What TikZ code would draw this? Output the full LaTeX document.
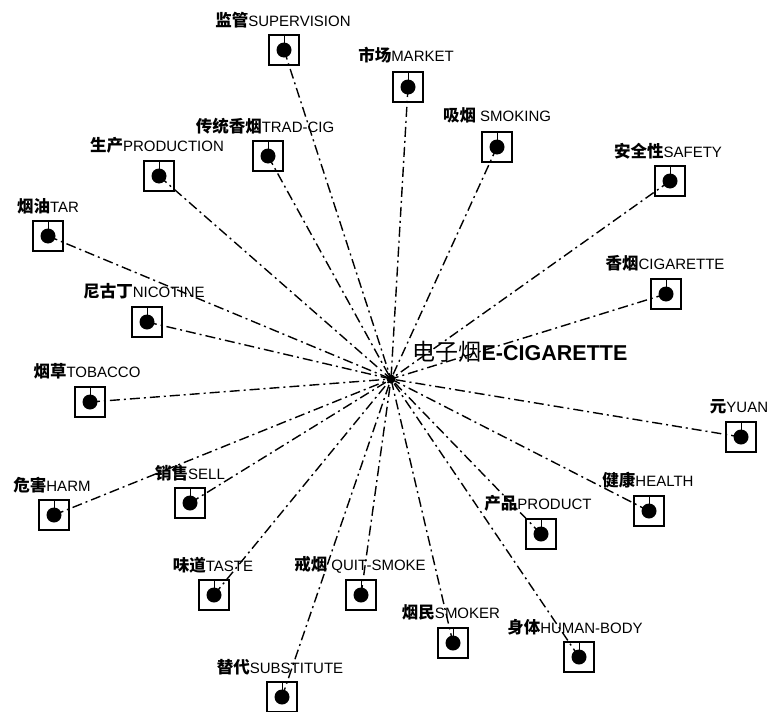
\documentclass[tikz,border=0pt]{standalone}
\usepackage{fontspec}
\setmainfont{Liberation Sans}
\newfontfamily\cjk{Noto Sans CJK SC}
\newcommand{\zh}[1]{{\cjk\bfseries\fontsize{16.5}{18}\selectfont #1}}
\begin{document}
\begin{tikzpicture}[x=1pt,y=-1pt]
	\tikzset{term/.style={draw, line width=1.1pt, minimum size=30pt, inner sep=0pt},
		termdot/.style={circle, fill=black, minimum size=15pt, inner sep=0pt},
		lbl/.style={inner sep=0pt, font=\fontsize{15}{18}\selectfont},
		link/.style={line width=1.4pt, dash pattern=on 10pt off 4pt on 2pt off 4pt},
		hubdot/.style={circle, fill=black, minimum size=9pt, inner sep=0pt}}
	\useasboundingbox (0,0) rectangle (769,712);
	\node[hubdot] (hub) at (391,379) {};
	\node[term] (sup) at (284,50) {};
	\node[termdot] (supd) at (sup) {};
	\draw[line width=1pt] (sup.north) -- (supd.center);
	\draw[link] (supd.center) -- (hub.center);
	\node[term] (mkt) at (408,87) {};
	\node[termdot] (mktd) at (mkt) {};
	\draw[line width=1pt] (mkt.north) -- (mktd.center);
	\draw[link] (mktd.center) -- (hub.center);
	\node[term] (smk) at (497,147) {};
	\node[termdot] (smkd) at (smk) {};
	\draw[line width=1pt] (smk.north) -- (smkd.center);
	\draw[link] (smkd.center) -- (hub.center);
	\node[term] (saf) at (670,181) {};
	\node[termdot] (safd) at (saf) {};
	\draw[line width=1pt] (saf.north) -- (safd.center);
	\draw[link] (safd.center) -- (hub.center);
	\node[term] (cig) at (666,294) {};
	\node[termdot] (cigd) at (cig) {};
	\draw[line width=1pt] (cig.north) -- (cigd.center);
	\draw[link] (cigd.center) -- (hub.center);
	\node[term] (yuan) at (741,437) {};
	\node[termdot] (yuand) at (yuan) {};
	\draw[line width=1pt] (yuan.north) -- (yuand.center);
	\draw[link] (yuand.center) -- (hub.center);
	\node[term] (hlth) at (649,511) {};
	\node[termdot] (hlthd) at (hlth) {};
	\draw[line width=1pt] (hlth.north) -- (hlthd.center);
	\draw[link] (hlthd.center) -- (hub.center);
	\node[term] (prod) at (541,534) {};
	\node[termdot] (prodd) at (prod) {};
	\draw[line width=1pt] (prod.north) -- (prodd.center);
	\draw[link] (prodd.center) -- (hub.center);
	\node[term] (body) at (579,657) {};
	\node[termdot] (bodyd) at (body) {};
	\draw[line width=1pt] (body.north) -- (bodyd.center);
	\draw[link] (bodyd.center) -- (hub.center);
	\node[term] (smkr) at (453,643) {};
	\node[termdot] (smkrd) at (smkr) {};
	\draw[line width=1pt] (smkr.north) -- (smkrd.center);
	\draw[link] (smkrd.center) -- (hub.center);
	\node[term] (quit) at (361,595) {};
	\node[termdot] (quitd) at (quit) {};
	\draw[line width=1pt] (quit.north) -- (quitd.center);
	\draw[link] (quitd.center) -- (hub.center);
	\node[term] (subs) at (282,697) {};
	\node[termdot] (subsd) at (subs) {};
	\draw[line width=1pt] (subs.north) -- (subsd.center);
	\draw[link] (subsd.center) -- (hub.center);
	\node[term] (tst) at (214,595) {};
	\node[termdot] (tstd) at (tst) {};
	\draw[line width=1pt] (tst.north) -- (tstd.center);
	\draw[link] (tstd.center) -- (hub.center);
	\node[term] (sell) at (190,503) {};
	\node[termdot] (selld) at (sell) {};
	\draw[line width=1pt] (sell.north) -- (selld.center);
	\draw[link] (selld.center) -- (hub.center);
	\node[term] (harm) at (54,515) {};
	\node[termdot] (harmd) at (harm) {};
	\draw[line width=1pt] (harm.north) -- (harmd.center);
	\draw[link] (harmd.center) -- (hub.center);
	\node[term] (tob) at (90,402) {};
	\node[termdot] (tobd) at (tob) {};
	\draw[line width=1pt] (tob.north) -- (tobd.center);
	\draw[link] (tobd.center) -- (hub.center);
	\node[term] (nic) at (147,322) {};
	\node[termdot] (nicd) at (nic) {};
	\draw[line width=1pt] (nic.north) -- (nicd.center);
	\draw[link] (nicd.center) -- (hub.center);
	\node[term] (tar) at (48,236) {};
	\node[termdot] (tard) at (tar) {};
	\draw[line width=1pt] (tar.north) -- (tard.center);
	\draw[link] (tard.center) -- (hub.center);
	\node[term] (pdn) at (159,176) {};
	\node[termdot] (pdnd) at (pdn) {};
	\draw[line width=1pt] (pdn.north) -- (pdnd.center);
	\draw[link] (pdnd.center) -- (hub.center);
	\node[term] (trad) at (268,156) {};
	\node[termdot] (tradd) at (trad) {};
	\draw[line width=1pt] (trad.north) -- (tradd.center);
	\draw[link] (tradd.center) -- (hub.center);
	\node[lbl] (supl) at (283,20) {\zh{监管}SUPERVISION};
	\node[lbl] (mktl) at (406,55) {\zh{市场}MARKET};
	\node[lbl] (smkl) at (497,115) {\zh{吸烟} SMOKING};
	\node[lbl] (safl) at (668,151) {\zh{安全性}SAFETY};
	\node[lbl] (cigl) at (665,263) {\zh{香烟}CIGARETTE};
	\node[lbl] (yuanl) at (739,407) {\zh{元}YUAN};
	\node[lbl] (hlthl) at (648,480) {\zh{健康}HEALTH};
	\node[lbl] (prodl) at (538,503) {\zh{产品}PRODUCT};
	\node[lbl] (bodyl) at (575,627) {\zh{身体}HUMAN-BODY};
	\node[lbl] (smkrl) at (451,612) {\zh{烟民}SMOKER};
	\node[lbl] (quitl) at (360,565) {\zh{戒烟} QUIT-SMOKE};
	\node[lbl] (subsl) at (280,667) {\zh{替代}SUBSTITUTE};
	\node[lbl] (tstl) at (213,565) {\zh{味道}TASTE};
	\node[lbl] (selll) at (190,473) {\zh{销售}SELL};
	\node[lbl] (harml) at (52,485) {\zh{危害}HARM};
	\node[lbl] (tobl) at (87,371) {\zh{烟草}TOBACCO};
	\node[lbl] (nicl) at (144,291) {\zh{尼古丁}NICOTINE};
	\node[lbl] (tarl) at (48,206) {\zh{烟油}TAR};
	\node[lbl] (pdnl) at (157,145) {\zh{生产}PRODUCTION};
	\node[lbl] (tradl) at (265,126) {\zh{传统香烟}TRAD-CIG};
	\node[lbl, font=\fontsize{21.5}{25}\selectfont] (hubl) at (520,352) {{\cjk\fontsize{23}{25}\selectfont 电子烟}\textbf{E-CIGARETTE}};
\end{tikzpicture}
\end{document}
